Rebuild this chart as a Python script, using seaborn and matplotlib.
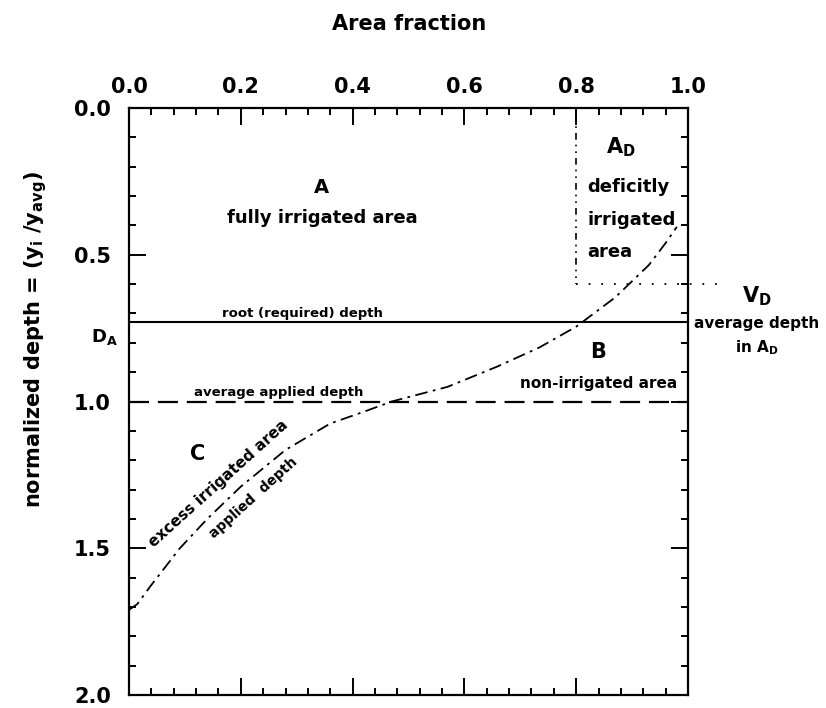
import matplotlib
matplotlib.use("Agg")
import matplotlib.pyplot as plt
import seaborn as sns
import pandas as pd
from matplotlib.ticker import MultipleLocator

# ---- data ----
area_fraction = [0.0, 0.015, 0.038, 0.091, 0.14, 0.20, 0.28, 0.36, 0.42, 0.47,
                 0.57, 0.66, 0.735, 0.80, 0.87, 0.93, 0.96, 0.98]
applied_depth = [1.71, 1.69, 1.63, 1.50, 1.40, 1.29, 1.165, 1.075, 1.035, 1.0,
                 0.95, 0.88, 0.815, 0.745, 0.645, 0.535, 0.46, 0.405]
root_depth = 0.73
average_depth = 1.0
deficit_fraction = 0.8
deficit_avg_depth = 0.6
x_ticks = [0.0, 0.2, 0.4, 0.6, 0.8, 1.0]
y_ticks = [0.0, 0.5, 1.0, 1.5, 2.0]

sns.set_style("ticks")
plt.rcParams['font.family'] = ['DejaVu Sans']
plt.rcParams['font.weight'] = 'bold'
plt.rcParams['mathtext.default'] = 'bf'
plt.rcParams['text.color'] = 'black'

W, H = 826, 708
fig = plt.figure(figsize=(W / 100, H / 100), dpi=100)
ax = fig.add_axes([129 / W, 1 - 695 / H, (688 - 129) / W, (695 - 108) / H])

df = pd.DataFrame({"x": area_fraction, "y": applied_depth})
sns.lineplot(data=df, x="x", y="y", ax=ax, sort=False, estimator=None,
             color="black", lw=1.3, linestyle=(0, (7, 3, 1.5, 3)))

ax.axhline(root_depth, color="black", lw=1.5)
ax.axhline(average_depth, color="black", lw=1.6, linestyle=(0, (9, 4)))
ax.plot([deficit_fraction, deficit_fraction], [0.0, deficit_avg_depth],
        color="black", lw=1.2, linestyle=(0, (4, 3, 1, 3, 1, 3)))
ax.plot([deficit_fraction, 1.055], [deficit_avg_depth, deficit_avg_depth],
        color="black", lw=1.3, linestyle=(0, (1, 6)), clip_on=False)

ax.set_xlim(0, 1)
ax.set_ylim(2.0, 0.0)
ax.set_xticks(x_ticks)
ax.set_yticks(y_ticks)
ax.set_xticklabels([f"{v:.1f}" for v in x_ticks])
ax.set_yticklabels([f"{v:.1f}" for v in y_ticks])
ax.xaxis.set_minor_locator(MultipleLocator(0.04))
ax.yaxis.set_minor_locator(MultipleLocator(0.1))
ax.tick_params(which="both", direction="in", top=True, bottom=True, left=True, right=True,
               labeltop=True, labelbottom=False, width=1.4, colors="black")
ax.tick_params(which="major", length=12, labelsize=15)
ax.tick_params(which="minor", length=5)
ax.tick_params(axis="x", pad=8)
ax.tick_params(axis="y", pad=13)
for lab in ax.get_xticklabels() + ax.get_yticklabels():
    lab.set_fontweight("bold")
    lab.set_color("black")
for s in ax.spines.values():
    s.set_linewidth(1.6)
    s.set_color("black")
ax.set_xlabel("")
ax.set_ylabel("")

fig.text(409 / W, 1 - 24 / H, "Area fraction", ha="center", va="center",
         fontsize=15, fontweight="bold", color="black")
fig.text(36 / W, 1 - 340 / H, r"normalized depth = (y$_{i}$ /y$_{avg}$)",
         rotation=90, ha="center", va="center", fontsize=15, fontweight="bold", color="black")

kw = dict(fontweight="bold", color="black")
ax.text(0.345, 0.27, "A", ha="center", va="center", fontsize=14, **kw)
ax.text(0.345, 0.375, "fully irrigated area", ha="center", va="center", fontsize=13, **kw)
ax.text(0.31, 0.70, "root (required) depth", ha="center", va="center", fontsize=9.5, **kw)
ax.text(0.267, 0.97, "average applied depth", ha="center", va="center", fontsize=9.5, **kw)
ax.text(0.84, 0.83, "B", ha="center", va="center", fontsize=15, **kw)
ax.text(0.84, 0.94, "non-irrigated area", ha="center", va="center", fontsize=11, **kw)
ax.text(0.123, 1.18, "C", ha="center", va="center", fontsize=15, **kw)
ax.text(0.16, 1.28, "excess irrigated area", ha="center", va="center", fontsize=11,
        rotation=42, **kw)
ax.text(0.222, 1.33, "applied  depth", ha="center", va="center", fontsize=10,
        rotation=42, **kw)
ax.text(0.88, 0.135, r"A$_D$", ha="center", va="center", fontsize=15, **kw)
ax.text(0.82, 0.27, "deficitly", ha="left", va="center", fontsize=13, **kw)
ax.text(0.82, 0.38, "irrigated", ha="left", va="center", fontsize=13, **kw)
ax.text(0.82, 0.49, "area", ha="left", va="center", fontsize=13, **kw)
ax.text(1.123, 0.64, r"V$_D$", ha="center", va="center", fontsize=15, clip_on=False, **kw)
ax.text(1.123, 0.735, "average depth", ha="center", va="center", fontsize=11, clip_on=False, **kw)
ax.text(1.123, 0.815, r"in A$_D$", ha="center", va="center", fontsize=11, clip_on=False, **kw)
ax.text(-0.02, 0.78, r"D$_A$", ha="right", va="center", fontsize=13, clip_on=False, **kw)

fig.savefig("out.png", dpi=100)
